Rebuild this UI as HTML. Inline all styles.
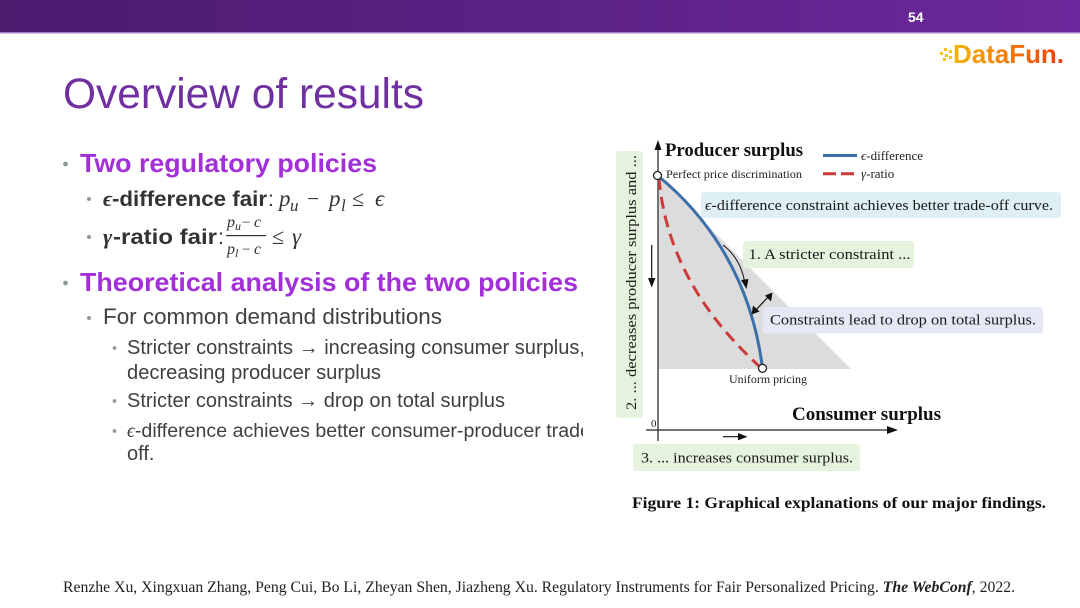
<!DOCTYPE html>
<html><head><meta charset="utf-8"><style>
html,body{margin:0;padding:0;background:#fff;}
svg{display:block;}
.s{font-family:"Liberation Sans",Arial,sans-serif;}
.r{font-family:"Liberation Serif","Times New Roman",serif;}
</style></head><body>
<svg width="1080" height="608" viewBox="0 0 1080 608" xmlns="http://www.w3.org/2000/svg">
<defs>
<linearGradient id="hg" x1="0" y1="0" x2="1" y2="0">
<stop offset="0" stop-color="#4b1b6e"/><stop offset="1" stop-color="#6b289c"/>
</linearGradient>
<linearGradient id="lg" x1="0" y1="0" x2="1" y2="0">
<stop offset="0" stop-color="#f7b500"/><stop offset="1" stop-color="#f03c10"/>
</linearGradient>
</defs>
<rect x="0" y="0" width="1080" height="608" fill="#fff"/>
<!-- header -->
<rect x="0" y="0" width="1080" height="32" fill="url(#hg)"/>
<rect x="0" y="32" width="1080" height="1.5" fill="#a47fc8"/>
<text x="908" y="22" class="s" font-size="14" font-weight="bold" fill="#fff">54</text>
<!-- logo -->
<g fill="#f7c21a">
<rect x="940" y="52" width="3" height="3"/><rect x="944" y="48" width="3" height="3"/><rect x="945" y="54" width="3" height="3"/>
<rect x="949" y="50" width="3" height="3"/><rect x="949" y="56" width="3" height="3"/><rect x="943" y="58" width="3" height="3"/>
</g>
<text x="953" y="63" class="s" font-size="26" font-weight="bold" fill="url(#lg)" textLength="111" lengthAdjust="spacingAndGlyphs">DataFun.</text>
<!-- title -->
<text x="63" y="108" class="s" font-size="42.5" fill="#7030a0" textLength="361" lengthAdjust="spacingAndGlyphs">Overview of results</text>
<!-- bullets -->
<g fill="#8e9c90">
<circle cx="65.5" cy="164" r="2.4"/><circle cx="65.5" cy="283" r="2.4"/>
<circle cx="89" cy="199" r="2"/><circle cx="89" cy="237" r="2"/><circle cx="89" cy="318" r="2"/>
<circle cx="114.5" cy="348" r="1.9"/><circle cx="114.5" cy="401" r="1.9"/><circle cx="114.5" cy="431" r="1.9"/>
</g>
<text x="80" y="172" class="s" font-size="26" font-weight="bold" fill="#a22fd8" textLength="297" lengthAdjust="spacingAndGlyphs">Two regulatory policies</text>
<text x="80" y="291" class="s" font-size="26" font-weight="bold" fill="#a22fd8" textLength="498" lengthAdjust="spacingAndGlyphs">Theoretical analysis of the two policies</text>
<!-- eps row -->
<text x="103" y="206" class="r" font-size="22" font-weight="bold" font-style="italic" fill="#333">ϵ</text>
<text x="112" y="206" class="s" font-size="21" font-weight="bold" fill="#333" textLength="155" lengthAdjust="spacingAndGlyphs">-difference fair</text>
<text x="268" y="206" class="s" font-size="21" fill="#333">:</text>
<g class="r" fill="#333" font-style="italic">
<text x="279" y="206" font-size="23">p</text>
<text x="290" y="211" font-size="17">u</text>
<text x="307" y="206" font-size="22" font-style="normal">−</text>
<text x="329" y="206" font-size="23">p</text>
<text x="341" y="211" font-size="17">l</text>
<text x="352" y="206" font-size="22" font-style="normal">≤</text>
<text x="375" y="206" font-size="23">ϵ</text>
</g>
<!-- gamma row -->
<text x="103" y="244" class="r" font-size="22" font-weight="bold" font-style="italic" fill="#333">γ</text>
<text x="113" y="244" class="s" font-size="21" font-weight="bold" fill="#333" textLength="104" lengthAdjust="spacingAndGlyphs">-ratio fair</text>
<text x="218" y="244" class="s" font-size="21" fill="#333">:</text>
<g class="r" fill="#333" font-style="italic">
<text x="227" y="227" font-size="16">p</text><text x="235" y="230" font-size="12">u</text><text x="242" y="227" font-size="15" font-style="normal">−</text><text x="254" y="227" font-size="16">c</text>
<text x="227" y="254" font-size="16">p</text><text x="235" y="257" font-size="12">l</text><text x="242" y="254" font-size="15" font-style="normal">−</text><text x="254" y="254" font-size="16">c</text>
<text x="272" y="244" font-size="22" font-style="normal">≤</text>
<text x="292" y="244" font-size="23">γ</text>
</g>
<rect x="226" y="235" width="40" height="1.2" fill="#333"/>
<!-- body -->
<g class="s" fill="#404040">
<text x="103" y="324" font-size="22" textLength="339" lengthAdjust="spacingAndGlyphs">For common demand distributions</text>
<text x="127" y="354" font-size="20" textLength="458" lengthAdjust="spacingAndGlyphs">Stricter constraints → increasing consumer surplus,</text>
<text x="127" y="379" font-size="20" textLength="254" lengthAdjust="spacingAndGlyphs">decreasing producer surplus</text>
<text x="127" y="407" font-size="20" textLength="378" lengthAdjust="spacingAndGlyphs">Stricter constraints → drop on total surplus</text>
<text x="127" y="437" font-size="19.6"><tspan font-family="Liberation Serif" font-style="italic">ϵ</tspan>-difference achieves better consumer-producer trade-</text>
<text x="127" y="460" font-size="20">off.</text>
</g>
<!-- figure -->
<rect x="583" y="135" width="492" height="395" fill="#fff"/>
<polygon points="658,176 851,369 658,369" fill="#dcdcdc"/>
<!-- axes -->
<line x1="658" y1="148" x2="658" y2="441" stroke="#555" stroke-width="1.6"/>
<polygon points="658,140 654.5,150 661.5,150" fill="#111"/>
<line x1="646" y1="430" x2="889" y2="430" stroke="#222" stroke-width="1.3"/>
<polygon points="898,430 887,426 887,434" fill="#111"/>
<text x="651" y="427" class="r" font-size="11" fill="#222">0</text>
<!-- curves -->
<path d="M659,178 C665,250 700,312 759,366" fill="none" stroke="#cc3a3a" stroke-width="3" stroke-dasharray="12,7"/>
<path d="M657.5,175.5 C700,210 750,270 762.5,368" fill="none" stroke="#3b6fa9" stroke-width="3"/>
<circle cx="657.5" cy="175.5" r="4" fill="#fff" stroke="#222" stroke-width="1.3"/>
<circle cx="762.5" cy="368.3" r="4" fill="#fff" stroke="#222" stroke-width="1.3"/>
<!-- labels -->
<text x="665" y="156" class="r" font-size="18.5" font-weight="bold" fill="#111" textLength="138" lengthAdjust="spacingAndGlyphs">Producer surplus</text>
<line x1="823" y1="155.5" x2="857" y2="155.5" stroke="#3b6fa9" stroke-width="3"/>
<line x1="823" y1="173.8" x2="857" y2="173.8" stroke="#cc3a3a" stroke-width="3" stroke-dasharray="13,5"/>
<text x="861" y="160" class="r" font-size="13" fill="#222"><tspan font-style="italic">ϵ</tspan>-difference</text>
<text x="861" y="178" class="r" font-size="13" fill="#222"><tspan font-style="italic">γ</tspan>-ratio</text>
<text x="666" y="178" class="r" font-size="12" fill="#222" textLength="136" lengthAdjust="spacingAndGlyphs">Perfect price discrimination</text>
<text x="729" y="383" class="r" font-size="12" fill="#222" textLength="78" lengthAdjust="spacingAndGlyphs">Uniform pricing</text>
<text x="792" y="420" class="r" font-size="18.5" font-weight="bold" fill="#111" textLength="149" lengthAdjust="spacingAndGlyphs">Consumer surplus</text>
<!-- boxes -->
<rect x="701" y="192" width="360" height="26" rx="3" fill="#dff0f4"/>
<text x="705" y="210" class="r" font-size="15" fill="#1a1a1a" textLength="348" lengthAdjust="spacingAndGlyphs"><tspan font-style="italic">ϵ</tspan>-difference constraint achieves better trade-off curve.</text>
<rect x="743" y="241" width="171" height="27" rx="3" fill="#e5f2dd"/>
<text x="748.5" y="259" class="r" font-size="15" fill="#1a1a1a" textLength="162" lengthAdjust="spacingAndGlyphs">1. A stricter constraint ...</text>
<rect x="763" y="307" width="280" height="26.5" rx="3" fill="#e6e8f5"/>
<text x="770" y="324.5" class="r" font-size="15" fill="#1a1a1a" textLength="266" lengthAdjust="spacingAndGlyphs">Constraints lead to drop on total surplus.</text>
<rect x="633" y="444" width="227" height="27" rx="3" fill="#e5f2dd"/>
<text x="641" y="462.5" class="r" font-size="15" fill="#1a1a1a" textLength="212" lengthAdjust="spacingAndGlyphs">3. ... increases consumer surplus.</text>
<rect x="616" y="151" width="27" height="267" rx="3" fill="#e5f2dd"/>
<text transform="translate(636,410) rotate(-90)" class="r" font-size="15" fill="#1a1a1a" textLength="255" lengthAdjust="spacingAndGlyphs">2. ... decreases producer surplus and ...</text>
<!-- arrows -->
<line x1="651.7" y1="245" x2="651.7" y2="280" stroke="#111" stroke-width="1.2"/>
<polygon points="648,278 655.4,278 651.7,287.5" fill="#111"/>
<line x1="723" y1="436.7" x2="740" y2="436.7" stroke="#111" stroke-width="1.2"/>
<polygon points="738,433 738,440.4 747.5,436.7" fill="#111"/>
<path d="M723,245 Q740,258 744.5,281" fill="none" stroke="#111" stroke-width="1"/>
<polygon points="741,280 748.5,279 746.5,289" fill="#111"/>
<line x1="755" y1="311" x2="769" y2="296" stroke="#111" stroke-width="1.2"/>
<polygon points="751.5,314.5 753,305.5 759.5,311.5" fill="#111"/>
<polygon points="772.5,292.5 765,295.5 771,301.5" fill="#111"/>
<text x="632" y="508" class="r" font-size="15.5" font-weight="bold" fill="#111" textLength="414" lengthAdjust="spacingAndGlyphs">Figure 1: Graphical explanations of our major findings.</text>
<!-- citation -->
<text x="63" y="592" class="r" font-size="16" fill="#222" textLength="952" lengthAdjust="spacingAndGlyphs">Renzhe Xu, Xingxuan Zhang, Peng Cui, Bo Li, Zheyan Shen, Jiazheng Xu. Regulatory Instruments for Fair Personalized Pricing. <tspan font-weight="bold" font-style="italic">The WebConf</tspan>, 2022.</text>
</svg>
</body></html>
